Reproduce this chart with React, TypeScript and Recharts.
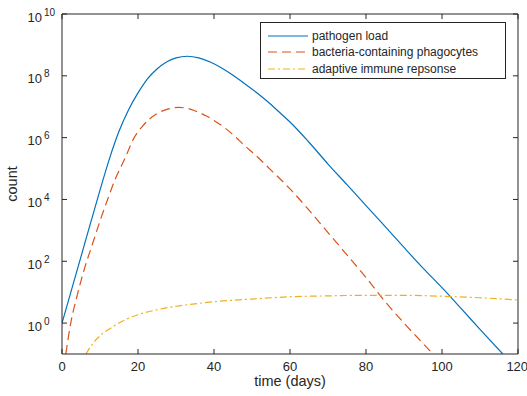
import { LineChart, Line, XAxis, YAxis, Legend, Label } from 'recharts';

// time (days) / count pairs, one list per series
const pathogenT = [0, 5, 10, 12.5, 15, 17.5, 20, 22.5, 25, 27.5, 30, 33, 36, 39, 42, 45, 48, 51, 54, 57, 60, 65, 70, 75, 80, 85, 90, 95, 100, 105, 110, 116];
const pathogenV = [1, 141, 2e4, 2.1e5, 1.6e6, 7.9e6, 2.8e7, 8e7, 1.66e8, 2.8e8, 3.8e8, 4.3e8, 3.8e8, 2.8e8, 1.8e8, 1.05e8, 5.6e7, 3e7, 1.5e7, 7e6, 3.2e6, 7.1e5, 1.4e5, 3e4, 6.3e3, 1.35e3, 280, 60, 14, 3, 0.63, 0.1];

const phagoT = [1, 2.3, 4, 6, 8, 10, 12, 14, 16.6, 19, 21, 23, 25, 28, 30.6, 33, 35, 38, 40.3, 43, 45.5, 48, 50.8, 55, 60, 65, 70, 75, 80, 85, 90, 95, 97.6];
const phagoV = [0.1, 1, 7.9, 63, 355, 2e3, 1e4, 4.5e4, 2.2e5, 1e6, 2.2e6, 4e6, 6e6, 8.5e6, 9.5e6, 8.9e6, 7.4e6, 5e6, 3.4e6, 2e6, 1.1e6, 5.6e5, 2.8e5, 8.9e4, 2.2e4, 4.5e3, 850, 160, 30, 5, 1, 0.22, 0.1];

const adaptiveT = [6.3, 8, 10, 13, 17, 20, 25, 30, 35, 40, 45, 50, 60, 70, 80, 90, 100, 110, 120];
const adaptiveV = [0.1, 0.21, 0.39, 0.71, 1.35, 1.86, 2.7, 3.5, 4.2, 4.9, 5.5, 6.0, 7.1, 7.6, 7.9, 7.9, 7.4, 6.6, 5.6];

const xTicks = [0, 20, 40, 60, 80, 100, 120];
const yTicks = [1, 1e2, 1e4, 1e6, 1e8, 1e10];
const xDomain = [0, 120];
const yDomain = [0.1, 1e10];

const FONT = '"Liberation Sans", Arial, Helvetica, sans-serif';
const INK = '#262626';

// plot box, matches chart margins + axis sizes below
const W = 527;
const H = 396;
const PLOT = { left: 62, top: 14, right: 518, bottom: 354 };

const series = [
  { name: 'pathogen load', t: pathogenT, v: pathogenV, color: '#0072BD', dash: undefined },
  { name: 'bacteria-containing phagocytes', t: phagoT, v: phagoV, color: '#D95319', dash: '9 5' },
  { name: 'adaptive immune repsonse', t: adaptiveT, v: adaptiveV, color: '#EDB120', dash: '7 3 2 3' },
];

const zip = (t: number[], v: number[]) => t.map((x, i) => ({ t: x, v: v[i] }));

function PowTick({ x, y, payload }: any) {
  const exp = Math.round(Math.log10(payload.value));
  return (
    <g fill={INK} fontFamily={FONT}>
      <text x={x - 13} y={y + 7.5} textAnchor="end" fontSize={13}>10</text>
      <text x={x - 11} y={y + 1.5} textAnchor="start" fontSize={10}>{exp}</text>
    </g>
  );
}

// top and right edges of the MATLAB-style box, with inward ticks
function BoxFrame() {
  const pw = PLOT.right - PLOT.left;
  const ph = PLOT.bottom - PLOT.top;
  const lx0 = Math.log10(yDomain[0]);
  const lx1 = Math.log10(yDomain[1]);
  const tx = (t: number) => PLOT.left + ((t - xDomain[0]) / (xDomain[1] - xDomain[0])) * pw;
  const ty = (v: number) => PLOT.bottom - ((Math.log10(v) - lx0) / (lx1 - lx0)) * ph;
  return (
    <svg width={W} height={H} style={{ position: 'absolute', left: 0, top: 0, pointerEvents: 'none' }}>
      <g stroke={INK} strokeWidth={1} fill="none">
        <line x1={PLOT.left} y1={PLOT.top} x2={PLOT.right} y2={PLOT.top} />
        <line x1={PLOT.right} y1={PLOT.top} x2={PLOT.right} y2={PLOT.bottom} />
        {xTicks.map((t) => (
          <line key={`x${t}`} x1={tx(t)} y1={PLOT.top} x2={tx(t)} y2={PLOT.top + 5} />
        ))}
        {yTicks.map((v) => (
          <line key={`y${v}`} x1={PLOT.right} y1={ty(v)} x2={PLOT.right - 5} y2={ty(v)} />
        ))}
      </g>
    </svg>
  );
}

function LegendBox() {
  return (
    <div
      style={{
        width: 244,
        height: 55,
        border: `1px solid ${INK}`,
        background: '#fff',
        fontFamily: FONT,
        fontSize: 12,
        color: INK,
        boxSizing: 'content-box',
      }}
    >
      {series.map((s, i) => (
        <div key={s.name} style={{ position: 'absolute', left: 8, top: 6 + i * 16.3, height: 16, display: 'flex', alignItems: 'center' }}>
          <svg width={40} height={16} style={{ display: 'block' }}>
            <line x1={0} y1={8} x2={40} y2={8} stroke={s.color} strokeWidth={1.2} strokeDasharray={s.dash} />
          </svg>
          <span style={{ marginLeft: 4, whiteSpace: 'nowrap', lineHeight: '16px' }}>{s.name}</span>
        </div>
      ))}
    </div>
  );
}

export default function App() {
  return (
    <div style={{ position: 'absolute', left: 0, top: 0, width: W, height: H, background: '#fff' }}>
      <LineChart width={W} height={H} margin={{ top: PLOT.top, right: W - PLOT.right, bottom: 0, left: 0 }}>
        <XAxis
          type="number"
          dataKey="t"
          domain={xDomain}
          ticks={xTicks}
          allowDataOverflow
          height={H - PLOT.bottom}
          stroke={INK}
          tickSize={-5}
          tickMargin={13}
          tick={{ fill: INK, fontSize: 13, fontFamily: FONT }}
        >
          <Label
            content={({ viewBox }: any) => (
              <text x={viewBox.x + viewBox.width / 2} y={viewBox.y + 32} textAnchor="middle" fill={INK} fontSize={14.5} fontFamily={FONT}>
                time (days)
              </text>
            )}
          />
        </XAxis>
        <YAxis
          scale="log"
          domain={yDomain}
          ticks={yTicks}
          allowDataOverflow
          width={PLOT.left}
          stroke={INK}
          tickSize={-5}
          tickMargin={12}
          tick={<PowTick />}
        >
          <Label
            content={({ viewBox }: any) => {
              const cx = 16.5;
              const cy = viewBox.y + viewBox.height / 2;
              return (
                <text x={cx} y={cy} transform={`rotate(-90 ${cx} ${cy})`} textAnchor="middle" fill={INK} fontSize={14.5} fontFamily={FONT}>
                  count
                </text>
              );
            }}
          />
        </YAxis>
        {series.map((s) => (
          <Line
            key={s.name}
            data={zip(s.t, s.v)}
            dataKey="v"
            name={s.name}
            type="monotone"
            stroke={s.color}
            strokeWidth={1.2}
            strokeDasharray={s.dash}
            dot={false}
            activeDot={false}
            isAnimationActive={false}
          />
        ))}
        <Legend
          layout="horizontal"
          verticalAlign="middle"
          align="center"
          content={() => <LegendBox />}
          wrapperStyle={{ left: 260, top: 22, width: 246, height: 57 }}
        />
      </LineChart>
      <BoxFrame />
    </div>
  );
}
